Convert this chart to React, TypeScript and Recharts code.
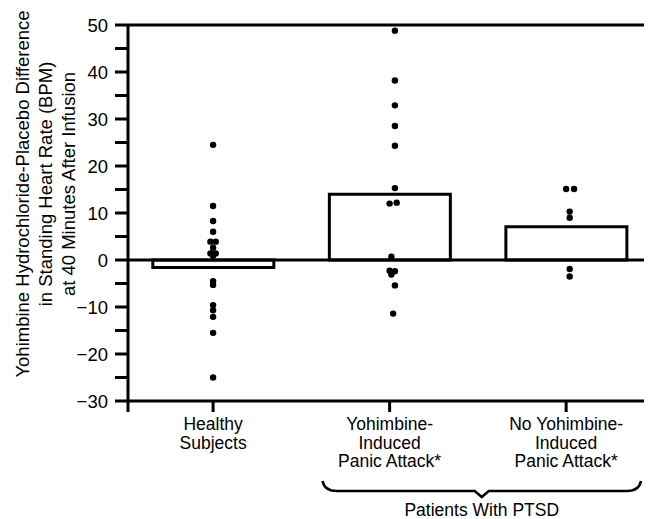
import { ComposedChart, Bar, Scatter, XAxis, YAxis, ReferenceLine } from 'recharts'

// group positions on the x scale and their labels
const categoryX = [1, 2, 3]
const categoryLabels = [
  ['Healthy', 'Subjects'],
  ['Yohimbine-', 'Induced', 'Panic Attack*'],
  ['No Yohimbine-', 'Induced', 'Panic Attack*'],
]
const groupMeans = [-1.6, 14.0, 7.1]

// individual subjects (BPM difference), with small x offsets where dots sit side by side
const healthyValues = [24.5, 11.5, 8.3, 6.0, 3.9, 3.9, 2.6, 1.4, 1.4, 0.9, -4.5, -5.3, -9.6, -10.7, -12.1, -15.5, -25.0]
const healthyX = [1, 1, 1, 1, 0.985, 1.015, 1, 0.985, 1.015, 1, 1, 1, 1, 1, 1, 1, 1]
const panicValues = [48.8, 38.2, 32.9, 28.5, 24.3, 15.3, 12.0, 12.2, 0.7, -2.3, -2.4, -3.1, -5.4, -11.4]
const panicX = [2.03, 2.03, 2.03, 2.03, 2.03, 2.03, 2.0, 2.04, 2.01, 2.0, 2.03, 2.01, 2.03, 2.02]
const noPanicValues = [15.1, 15.1, 10.3, 9.0, -1.9, -3.5]
const noPanicX = [3.0, 3.045, 3.02, 3.02, 3.02, 3.02]

const yTicks = [-30, -25, -20, -15, -10, -5, 0, 5, 10, 15, 20, 25, 30, 35, 40, 45, 50]
const xDomain = [0.518, 3.441]

const W = 648
const H = 519
const PLOT_LEFT = 128
const PLOT_RIGHT = 644
const FONT = '"Liberation Sans", Arial, sans-serif'

const bars = categoryX.map((x, i) => ({ x, mean: groupMeans[i] }))
const dots = [
  ...healthyValues.map((y, i) => ({ x: healthyX[i], y })),
  ...panicValues.map((y, i) => ({ x: panicX[i], y })),
  ...noPanicValues.map((y, i) => ({ x: noPanicX[i], y })),
]

const xPx = (v: number) =>
  PLOT_LEFT + ((v - xDomain[0]) / (xDomain[1] - xDomain[0])) * (PLOT_RIGHT - PLOT_LEFT)

function YTick(props: any) {
  const { x, y, payload } = props
  const v = payload.value as number
  if (v % 10 !== 0) return null
  const label = v < 0 ? '\u2212' + Math.abs(v) : String(v)
  return (
    <text x={x} y={y} dy="0.36em" textAnchor="end" fontSize={18.5} fill="#000" fontFamily={FONT}>
      {label}
    </text>
  )
}

function XTick(props: any) {
  const { x, y, payload } = props
  const idx = categoryX.indexOf(payload.value)
  if (idx < 0) return null
  return (
    <text x={x} y={y} textAnchor="middle" fontSize={17.5} fill="#000" fontFamily={FONT}>
      {categoryLabels[idx].map((line, i) => (
        <tspan key={i} x={x} dy={i === 0 ? 18 : 18.5}>
          {line}
        </tspan>
      ))}
    </text>
  )
}

const titleLines = [
  'Yohimbine Hydrochloride-Placebo Difference',
  'in Standing Heart Rate (BPM)',
  'at 40 Minutes After Infusion',
]

export default function App() {
  const braceL = xPx(1.62)
  const braceR = PLOT_RIGHT - 3
  const braceMid = (braceL + braceR) / 2
  const by = 491
  return (
    <div style={{ position: 'absolute', left: 0, top: 0, width: W, height: H, background: '#fff' }}>
      <ComposedChart
        width={W}
        height={H}
        data={bars}
        margin={{ top: 25, right: W - PLOT_RIGHT, bottom: 0, left: 0 }}
      >
        <XAxis
          xAxisId="cat"
          type="number"
          dataKey="x"
          domain={xDomain}
          ticks={[xDomain[0], ...categoryX]}
          allowDataOverflow
          height={118}
          tickSize={11}
          tickMargin={0}
          axisLine={{ stroke: '#000', strokeWidth: 3 }}
          tickLine={{ stroke: '#000', strokeWidth: 3 }}
          tick={<XTick />}
          interval={0}
        />
        <XAxis xAxisId="dots" type="number" dataKey="x" domain={xDomain} allowDataOverflow hide />
        <YAxis
          type="number"
          domain={[-30, 50]}
          ticks={yTicks}
          width={PLOT_LEFT}
          tickSize={13}
          tickMargin={7}
          axisLine={{ stroke: '#000', strokeWidth: 3 }}
          tickLine={{ stroke: '#000', strokeWidth: 3 }}
          tick={<YTick />}
          interval={0}
        />
        <ReferenceLine xAxisId="cat" y={50} stroke="#000" strokeWidth={3} />
        <ReferenceLine xAxisId="cat" y={0} stroke="#000" strokeWidth={3} />
        <Bar
          xAxisId="cat"
          dataKey="mean"
          barSize={121}
          fill="#fff"
          stroke="#000"
          strokeWidth={3}
          isAnimationActive={false}
        />
        <Scatter
          xAxisId="dots"
          data={dots}
          dataKey="y"
          isAnimationActive={false}
          shape={(p: any) => <circle cx={p.cx} cy={p.cy} r={3.2} fill="#000" />}
        />
      </ComposedChart>
      <svg
        width={W}
        height={H}
        style={{ position: 'absolute', left: 0, top: 0, pointerEvents: 'none' }}
        fontFamily={FONT}
      >
        {titleLines.map((t, i) => {
          const cx = 22 + i * 23
          const cy = i === 0 ? 194 : 184
          return (
            <text
              key={i}
              x={cx}
              y={cy}
              dy="0.36em"
              textAnchor="middle"
              fontSize={18.5}
              fill="#000"
              transform={`rotate(-90 ${cx} ${cy})`}
            >
              {t}
            </text>
          )
        })}
        <path
          d={`M ${braceL} ${by - 10} Q ${braceL + 2} ${by} ${braceL + 14} ${by}
              L ${braceMid - 7} ${by} L ${braceMid} ${by + 6} L ${braceMid + 7} ${by}
              L ${braceR - 14} ${by} Q ${braceR - 2} ${by} ${braceR} ${by - 10}`}
          fill="none"
          stroke="#000"
          strokeWidth={2.5}
        />
        <text x={braceMid} y={516} textAnchor="middle" fontSize={17.5} fill="#000">
          Patients With PTSD
        </text>
      </svg>
    </div>
  )
}
